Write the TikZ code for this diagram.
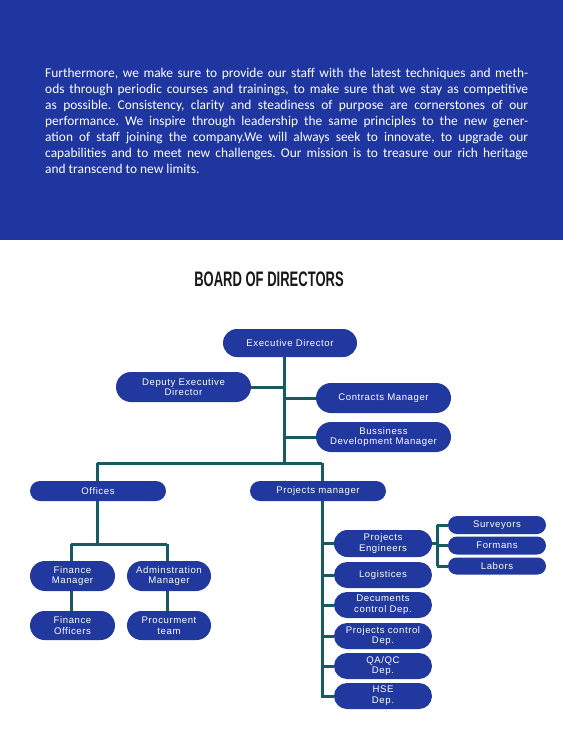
\documentclass[tikz,border=0pt]{standalone}
\usepackage{fontspec}
\usetikzlibrary{shapes.misc,backgrounds}
\newfontfamily\bodyfont{Carlito}
\newfontfamily\boxfontfam[LetterSpace=6]{Liberation Sans}
\newfontfamily\titlefontfam{Liberation Sans}
\definecolor{bandblue}{RGB}{31,53,160}
\definecolor{boxblue}{RGB}{33,56,158}
\definecolor{linkteal}{RGB}{24,90,98}
\tikzset{
  orgbox/.style={rounded rectangle, fill=boxblue, text=white, inner sep=0pt, align=center,
    font=\boxfontfam\fontsize{9.6}{10.8}\selectfont},
  link/.style={draw=linkteal, line width=3pt}
}
\begin{document}
\begin{tikzpicture}[x=1pt,y=-1pt]
\useasboundingbox (0,0) rectangle (563,740);
\fill[bandblue] (0,0) rectangle (563,240);
\node[anchor=north west, text width=483pt, align=justify, text=white, inner sep=0pt,
  font=\bodyfont\fontsize{13.4}{16}\selectfont] (body) at (45,68)
{\frenchspacing\hyphenpenalty=10000 Furthermore, we make sure to provide our staff with the latest techniques and meth-\linebreak
ods through periodic courses and trainings, to make sure that we stay as competitive\linebreak
as possible. Consistency, clarity and steadiness of purpose are cornerstones of our\linebreak
performance. We inspire through leadership the same principles to the new gener-\linebreak
ation of staff joining the company.We will always seek to innovate, to upgrade our\linebreak
capabilities and to meet new challenges. Our mission is to treasure our rich heritage\linebreak
and transcend to new limits.};
\node[text=black!90] (title) at (269,279) {\scalebox{0.62}[1]{\titlefontfam\bfseries\fontsize{21}{21}\selectfont BOARD OF DIRECTORS}};

\node[orgbox, minimum width=134pt, minimum height=28pt] (ed) at (290,343) {Executive Director};
\node[orgbox, minimum width=135pt, minimum height=30pt] (ded) at (183.5,387) {Deputy Executive\\Director};
\node[orgbox, minimum width=135pt, minimum height=30pt] (cm) at (383.5,398) {Contracts Manager};
\node[orgbox, minimum width=135pt, minimum height=30pt] (bdm) at (383.5,437) {Bussiness\\Development Manager};
\node[orgbox, minimum width=136pt, minimum height=20pt] (off) at (98,491) {Offices};
\node[orgbox, minimum width=136pt, minimum height=20pt] (pm) at (318,491) {Projects manager};
\node[orgbox, minimum width=85pt, minimum height=30pt] (fm) at (72.5,576) {Finance\\Manager};
\node[orgbox, minimum width=84pt, minimum height=30pt] (am) at (169,576) {Adminstration\\Manager};
\node[orgbox, minimum width=85pt, minimum height=29pt] (fo) at (72.5,625.5) {Finance\\Officers};
\node[orgbox, minimum width=84pt, minimum height=29pt] (pt) at (169,625.5) {Procurment\\team};
\node[orgbox, minimum width=98pt, minimum height=27pt] (pe) at (383,543.5) {Projects\\Engineers};
\node[orgbox, minimum width=98pt, minimum height=26pt] (lg) at (383,575) {Logistices};
\node[orgbox, minimum width=98pt, minimum height=26pt] (dc) at (383,605) {Decuments\\control Dep.};
\node[orgbox, minimum width=98pt, minimum height=26pt] (pc) at (383,636) {Projects control\\Dep.};
\node[orgbox, minimum width=98pt, minimum height=26pt] (qa) at (383,666) {QA/QC\\Dep.};
\node[orgbox, minimum width=98pt, minimum height=26pt] (hse) at (383,696) {HSE\\Dep.};
\node[orgbox, minimum width=98pt, minimum height=18pt] (sv) at (497,525) {Surveyors};
\node[orgbox, minimum width=98pt, minimum height=18pt] (fr) at (497,545.5) {Formans};
\node[orgbox, minimum width=98pt, minimum height=17pt] (lb) at (497,566) {Labors};

\coordinate (j1) at (284,463);
\coordinate (jl) at (97,463);
\coordinate (jr) at (322,463);
\coordinate (jo) at (97,544);
\coordinate (jfm) at (71,544);
\coordinate (jam) at (167,544);
\coordinate (jb) at (437,543.5);
\coordinate (jbt) at (437,525);
\coordinate (jbb) at (437,566);

\begin{scope}[on background layer]
\draw[link] (ed.south -| j1) -- (j1);
\draw[link] (ded.east) -- (ded.east -| j1);
\draw[link] (cm.west) -- (cm.west -| j1);
\draw[link] (bdm.west) -- (bdm.west -| j1);
\draw[link] (jl) -- (jr);
\draw[link] (jl) -- (off.north -| jl);
\draw[link] (jr) -- (pm.north -| jr);
\draw[link] (off.south -| jo) -- (jo);
\draw[link] (jfm) -- (jam);
\draw[link] (jfm) -- (fm.north -| jfm);
\draw[link] (jam) -- (am.north -| jam);
\draw[link] (fm.south -| jfm) -- (fo.north -| jfm);
\draw[link] (am.south -| jam) -- (pt.north -| jam);
\draw[link] (pm.south -| jr) -- (hse.west -| jr) -- (hse.west);
\draw[link] (pe.west -| jr) -- (pe.west);
\draw[link] (lg.west -| jr) -- (lg.west);
\draw[link] (dc.west -| jr) -- (dc.west);
\draw[link] (pc.west -| jr) -- (pc.west);
\draw[link] (qa.west -| jr) -- (qa.west);
\draw[link] (pe.east) -- (jb);
\draw[link] (jbt) -- (jbb);
\draw[link] (jbt) -- (sv.west);
\draw[link] (jb |- fr.west) -- (fr.west);
\draw[link] (jbb) -- (lb.west);
\end{scope}
\end{tikzpicture}
\end{document}
